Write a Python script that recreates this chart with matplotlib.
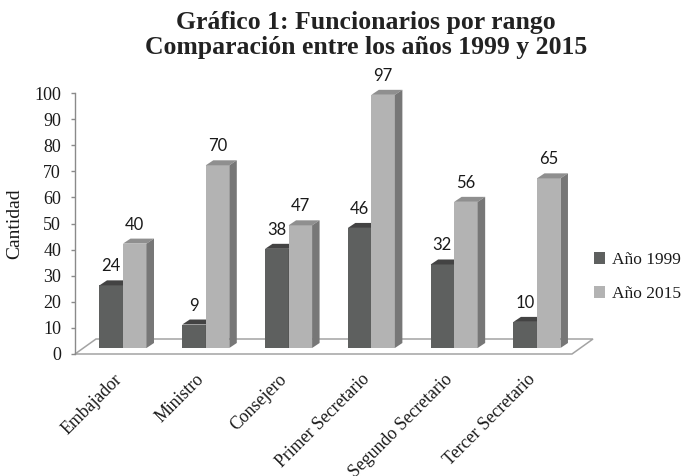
import matplotlib
matplotlib.use("Agg")
import matplotlib.pyplot as plt
from matplotlib.patches import Polygon, Patch
from matplotlib.transforms import ScaledTranslation
import numpy as np

categories = ["Embajador", "Ministro", "Consejero", "Primer Secretario",
              "Segundo Secretario", "Tercer Secretario"]
values_1999 = [24, 9, 38, 46, 32, 10]
values_2015 = [40, 70, 47, 97, 56, 65]
series_names = ["Año 1999", "Año 2015"]
yticks = list(range(0, 101, 10))

SERIF = ["Liberation Serif", "DejaVu Serif"]
SANS = ["Lato", "DejaVu Sans"]

W, H = 687, 476
fig = plt.figure(figsize=(W / 100, H / 100), dpi=100)

# axes: front plane of floor from px x=75..572, y value 0 at px 354, 100 at px 93
ax = fig.add_axes([75 / W, 1 - 354 / H, (572 - 75) / W, (354 - 93) / H])
ax.set_xlim(-0.483, 5.52)
ax.set_ylim(0, 100)
ax.patch.set_visible(False)

for s in ["top", "right", "bottom"]:
    ax.spines[s].set_visible(False)
ax.spines["left"].set_color("#8a8a8a")
ax.spines["left"].set_linewidth(1.0)
ax.set_xticks([])
ax.set_yticks(yticks)
ax.tick_params(axis="y", direction="out", length=3, width=1, color="#8a8a8a",
               pad=7, labelsize=13, labelcolor="#1a1a1a")
for lab in ax.get_yticklabels():
    lab.set_family(SERIF)

ax.set_ylabel("Cantidad", family=SERIF, fontsize=14, color="#1a1a1a", labelpad=8)

def px_to_data(dxp, dyp):
    p0 = ax.transData.transform((0, 0))
    q = ax.transData.inverted().transform(p0 + np.array([dxp, dyp]))
    return q[0], q[1]

# floor
fdx, fdy = px_to_data(21, 15)
x0, x1 = ax.get_xlim()
floor = Polygon([(x0, 0), (x1, 0), (x1 + fdx, fdy), (x0 + fdx, fdy)], closed=True,
                facecolor="white", edgecolor="#a3a3a3", lw=1.1, zorder=1, clip_on=False)
ax.add_patch(floor)

# bars (offset into the floor)
bar_off = ax.transData + ScaledTranslation(8 / 100, 6 / 100, fig.dpi_scale_trans)
bw = 0.284
ddx, ddy = px_to_data(7.5, 5)

colors = {
    0: dict(front="#5e605f", top="#434343", side="#4c4c4c"),
    1: dict(front="#b3b3b3", top="#8f8f8f", side="#777777"),
}

x = np.arange(len(categories))
for i in range(len(categories)):
    for k, vals in enumerate([values_1999, values_2015]):
        v = vals[i]
        left = x[i] - bw if k == 0 else x[i]
        c = colors[k]
        z = 3 + 2 * i + k * 0.5
        ax.bar(left, v, width=bw, align="edge", color=c["front"], edgecolor="none",
               transform=bar_off, zorder=z, clip_on=False)
        top = Polygon([(left, v), (left + bw, v), (left + bw + ddx, v + ddy), (left + ddx, v + ddy)],
                      closed=True, facecolor=c["top"], edgecolor="none",
                      transform=bar_off, zorder=z, clip_on=False)
        side = Polygon([(left + bw, 0), (left + bw, v), (left + bw + ddx, v + ddy), (left + bw + ddx, ddy)],
                       closed=True, facecolor=c["side"], edgecolor="none",
                       transform=bar_off, zorder=z, clip_on=False)
        ax.add_patch(top)
        ax.add_patch(side)
        ax.annotate(str(v), xy=(left + bw / 2, v + ddy), xycoords=bar_off,
                    xytext=(0, 6), textcoords="offset pixels", ha="center", va="bottom",
                    family=SANS, fontsize=12, color="#1a1a1a", zorder=20)

# category labels
for i, cat in enumerate(categories):
    ax.annotate(cat, xy=(x[i], 0), xycoords="data", xytext=(4, -23),
                textcoords="offset pixels", ha="right", va="center", rotation=45,
                rotation_mode="anchor", family=SERIF, fontsize=12.8, color="#1a1a1a",
                annotation_clip=False)

# legend
handles = [Patch(facecolor=colors[0]["front"], edgecolor="none"),
           Patch(facecolor=colors[1]["front"], edgecolor="none")]
fig.legend(handles, series_names, loc="upper left", bbox_to_anchor=(594 / W, 1 - 252 / H),
           frameon=False, prop={"family": SERIF, "size": 12.5}, handlelength=0.65,
           handleheight=0.65, handletextpad=0.4, labelspacing=1.05, borderpad=0,
           borderaxespad=0, labelcolor="#1a1a1a")

fig.text(366 / W, 1 - 35 / H, "Gráfico 1: Funcionarios por rango\nComparación entre los años 1999 y 2015",
         ha="center", va="center", family=SERIF, fontsize=18.5, fontweight="bold",
         color="#222222", linespacing=1.1)

fig.savefig("out.png", dpi=100)
